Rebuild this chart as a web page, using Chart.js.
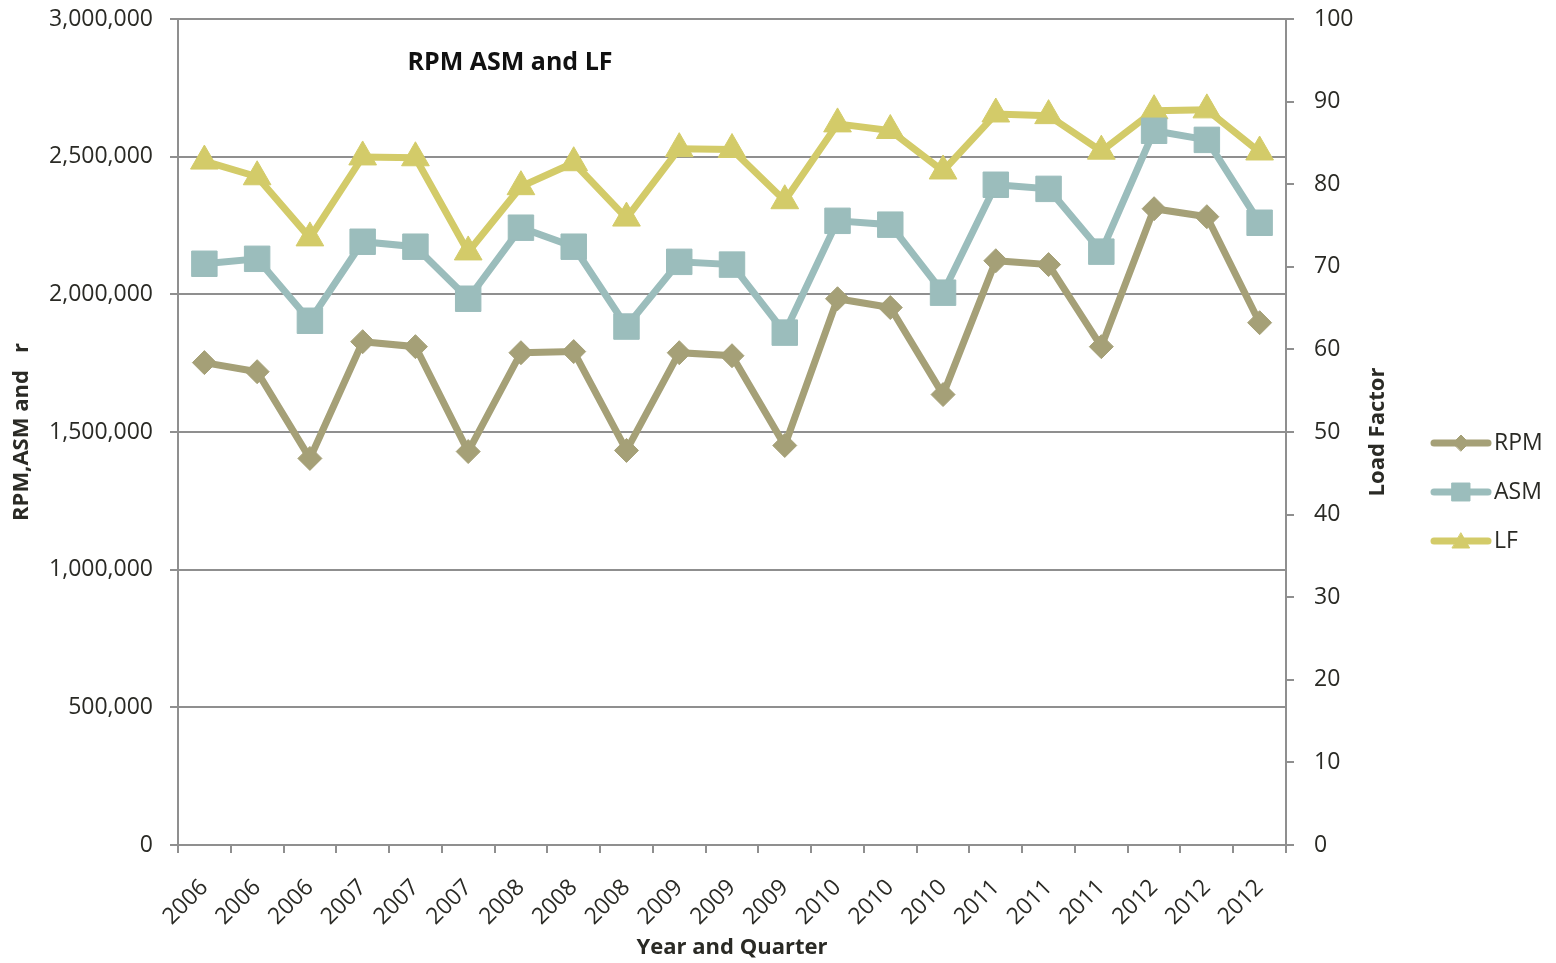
<!DOCTYPE html>
<html>
<head>
<meta charset="utf-8">
<script src="https://cdn.jsdelivr.net/npm/chart.js@4/dist/chart.umd.min.js"></script>
<style>
  html, body { margin: 0; padding: 0; background: #ffffff; }
  #wrap { width: 1556px; height: 963px; position: relative; }
</style>
</head>
<body>
<div id="wrap"><canvas id="chart" width="1556" height="963"></canvas></div>
<script>
// Quarterly categories (year shown for each quarter)
const categories = ['2006','2006','2006','2007','2007','2007','2008','2008','2008',
                    '2009','2009','2009','2010','2010','2010','2011','2011','2011',
                    '2012','2012','2012'];

// Revenue passenger miles
const rpm = [1752000, 1719000, 1404000, 1828000, 1810000, 1429000, 1788000,
             1792000, 1433000, 1788000, 1777000, 1451000, 1984000, 1952000,
             1636000, 2122000, 2108000, 1810000, 2311000, 2282000, 1897000];

// Available seat miles
const asm = [2111000, 2129000, 1904000, 2191000, 2173000, 1984000, 2242000,
             2173000, 1883000, 2118000, 2108000, 1861000, 2267000, 2253000,
             2006000, 2398000, 2383000, 2155000, 2594000, 2561000, 2260000];

// Load factor (%)
const lf = [82.8, 80.9, 73.5, 83.3, 83.2, 71.8, 79.7, 82.6, 75.9, 84.3, 84.2,
            78.0, 87.3, 86.5, 81.6, 88.5, 88.3, 84.0, 88.9, 89.0, 83.9];

const seriesNames = ['RPM', 'ASM', 'LF'];
const chartTitle = 'RPM ASM and LF';
const leftAxisTitle = 'RPM,ASM and   r';
const rightAxisTitle = 'Load Factor';
const xAxisTitle = 'Year and Quarter';

const COLORS = { rpm: '#a5a077', asm: '#9bbdbc', lf: '#d3cb69' };
const TEXT = '#2a2a25';
const GRID = '#8f8f8f';
const FONT = '"Open Sans", "DejaVu Sans", sans-serif';

// Fixed axis sizes; drop the extra label padding so the plot area stays put
function fixVertical(width) {
  return (scale) => {
    scale.width = width;
    scale.paddingTop = 0;
    scale.paddingBottom = 0;
  };
}

// Chart title inside the plot area, and the right axis title reading upwards
const extraText = {
  id: 'extraText',
  afterDraw(chart) {
    const { ctx, chartArea } = chart;
    ctx.save();
    ctx.font = 'bold 25px ' + FONT;
    ctx.fillStyle = '#111111';
    ctx.textAlign = 'center';
    ctx.textBaseline = 'middle';
    ctx.fillText(chartTitle, chartArea.left + 332, chartArea.top + 44);

    ctx.translate(chartArea.right + 92, (chartArea.top + chartArea.bottom) / 2);
    ctx.rotate(-Math.PI / 2);
    ctx.font = 'bold 22px ' + FONT;
    ctx.fillStyle = TEXT;
    ctx.fillText(rightAxisTitle, 0, 0);
    ctx.restore();
  }
};

// Legend on the right: line segment with the series marker in the middle
const sideLegend = {
  id: 'sideLegend',
  afterDraw(chart) {
    const { ctx } = chart;
    const x0 = 1434, x1 = 1488, y0 = 443, gap = 49;
    const legendRadius = { rectRot: 8, rect: 12.7, triangle: 10 };
    chart.data.datasets.forEach((ds, i) => {
      const y = y0 + i * gap;
      ctx.save();
      ctx.strokeStyle = ds.borderColor;
      ctx.lineWidth = 7;
      ctx.lineCap = 'round';
      ctx.beginPath();
      ctx.moveTo(x0, y);
      ctx.lineTo(x1, y);
      ctx.stroke();
      ctx.fillStyle = ds.pointBackgroundColor;
      ctx.strokeStyle = ds.pointBorderColor;
      ctx.lineWidth = 1;
      Chart.helpers.drawPoint(ctx, {
        pointStyle: ds.pointStyle,
        radius: legendRadius[ds.pointStyle],
        borderWidth: 1,
        rotation: 0
      }, (x0 + x1) / 2, ds.pointStyle === 'triangle' ? y + 2 : y);
      ctx.fillStyle = TEXT;
      ctx.font = '23px ' + FONT;
      ctx.textAlign = 'left';
      ctx.textBaseline = 'middle';
      ctx.fillText(ds.label, x1 + 6, y);
      ctx.restore();
    });
  }
};

new Chart(document.getElementById('chart'), {
  type: 'line',
  data: {
    labels: categories,
    datasets: [
      {
        label: seriesNames[0], data: rpm, yAxisID: 'y',
        borderColor: COLORS.rpm, backgroundColor: COLORS.rpm,
        pointBackgroundColor: COLORS.rpm, pointBorderColor: COLORS.rpm,
        borderWidth: 7, pointStyle: 'rectRot', pointRadius: 12, pointBorderWidth: 1,
        tension: 0, fill: false
      },
      {
        label: seriesNames[1], data: asm, yAxisID: 'y',
        borderColor: COLORS.asm, backgroundColor: COLORS.asm,
        pointBackgroundColor: COLORS.asm, pointBorderColor: COLORS.asm,
        borderWidth: 7, pointStyle: 'rect', pointRadius: 18, pointBorderWidth: 1,
        tension: 0, fill: false
      },
      {
        label: seriesNames[2], data: lf, yAxisID: 'y1',
        borderColor: COLORS.lf, backgroundColor: COLORS.lf,
        pointBackgroundColor: COLORS.lf, pointBorderColor: COLORS.lf,
        borderWidth: 7, pointStyle: 'triangle', pointRadius: 16, pointBorderWidth: 1,
        tension: 0, fill: false
      }
    ]
  },
  options: {
    responsive: false,
    animation: false,
    layout: { padding: { top: 18, right: 166, bottom: 0, left: 0 } },
    plugins: {
      legend: { display: false },
      title: { display: false },
      tooltip: { enabled: false }
    },
    scales: {
      x: {
        offset: true,
        afterFit(scale) { scale.height = 118; scale.paddingLeft = 0; scale.paddingRight = 0; },
        grid: { offset: true, drawOnChartArea: false, drawTicks: true, tickLength: 8, color: GRID, lineWidth: 2 },
        border: { display: true, color: GRID, width: 2 },
        ticks: {
          autoSkip: false, maxRotation: 45, minRotation: 45, padding: 21,
          color: TEXT, font: { family: FONT, size: 23 }
        },
        title: {
          display: true, text: xAxisTitle, color: TEXT,
          font: { family: FONT, size: 22, weight: 'bold' },
          padding: { top: 0, bottom: 2 }
        }
      },
      y: {
        position: 'left', min: 0, max: 3000000,
        afterFit: fixVertical(178),
        grid: { drawOnChartArea: true, drawTicks: true, tickLength: 8, color: GRID, lineWidth: 2 },
        border: { display: true, color: GRID, width: 2 },
        ticks: {
          stepSize: 500000, padding: 17, color: TEXT,
          font: { family: FONT, size: 23 },
          callback: (v) => v.toLocaleString('en-US')
        },
        title: {
          display: true, text: leftAxisTitle, color: TEXT,
          font: { family: FONT, size: 22, weight: 'bold' },
          padding: { top: 9, bottom: 0 }
        }
      },
      y1: {
        position: 'right', min: 0, max: 100,
        afterFit: fixVertical(104),
        grid: { drawOnChartArea: false, drawTicks: true, tickLength: 8, color: GRID, lineWidth: 2 },
        border: { display: true, color: GRID, width: 2 },
        ticks: {
          stepSize: 10, padding: 20, color: TEXT,
          font: { family: FONT, size: 23 }
        },
        title: { display: false }
      }
    }
  },
  plugins: [extraText, sideLegend]
});
</script>
</body>
</html>
